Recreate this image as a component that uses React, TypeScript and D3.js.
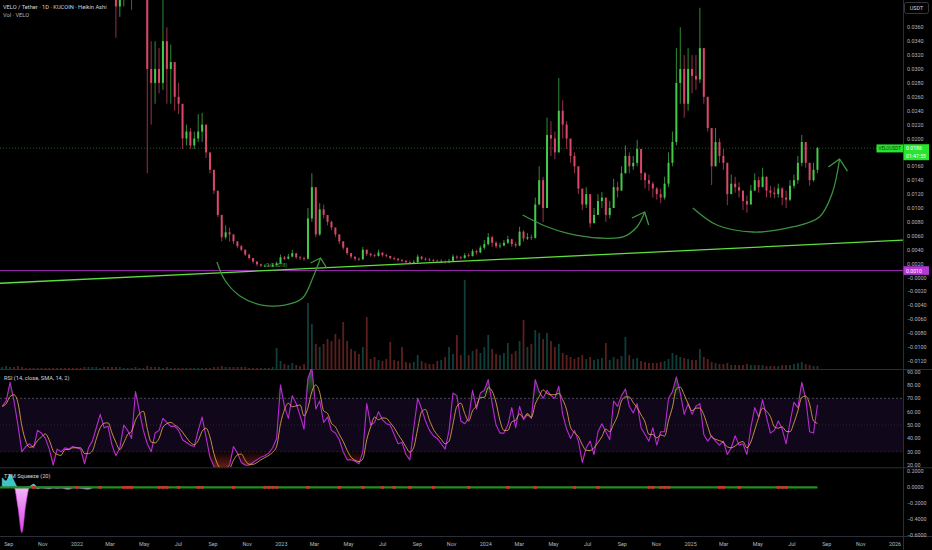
import React, { useMemo } from 'react';
import * as d3 from 'd3';

const W = 932;
const H = 550;
const AXIS_X = 903;
const DAY = 864e5;

// ---- data (weekly Heikin Ashi summary, VELO/USDT) ----
const startDate = Date.UTC(2021, 7, 17);

const weekClose = [
  0.110, 0.118, 0.125, 0.115, 0.100, 0.085, 0.082, 0.080, 0.076, 0.079, 0.078, 0.074, 0.070, 0.062, 0.060, 0.058, 0.057, 0.055, 0.054, 0.053, 0.051, 0.046, 0.047, 0.048, 0.050, 0.053, 0.051, 0.050,
  0.044, 0.039, 0.041, 0.044, 0.047, 0.043, 0.045, 0.048, 0.044, 0.030,
  0.028, 0.030, 0.028, 0.034, 0.030, 0.031, 0.026, 0.025, 0.020, 0.021,
  0.019, 0.020, 0.021, 0.022, 0.018, 0.0155, 0.0125, 0.0090, 0.0058, 0.0065,
  0.0062, 0.0052, 0.0045, 0.0040, 0.0033, 0.0028, 0.0023, 0.0019, 0.0017, 0.0017,
  0.0016, 0.0018, 0.0020, 0.0029, 0.0027, 0.0030, 0.0035, 0.0029, 0.0028, 0.0027,
  0.0085, 0.0130, 0.0062, 0.0098, 0.0090, 0.0080, 0.0072, 0.0062, 0.0052, 0.0043,
  0.0035, 0.0030, 0.0027, 0.0026, 0.0040, 0.0034, 0.0032, 0.0031, 0.0036, 0.0032,
  0.0031, 0.0028, 0.0027, 0.0025, 0.0024, 0.0022, 0.0021, 0.0022, 0.0030, 0.0027,
  0.0026, 0.0025, 0.0024, 0.0023, 0.0023, 0.0022, 0.0024, 0.0030, 0.0029, 0.0028,
  0.0032, 0.0031, 0.0038, 0.0036, 0.0043, 0.0048, 0.0058, 0.0050, 0.0045, 0.0046,
  0.0050, 0.0055, 0.0048, 0.0046, 0.0066, 0.0056, 0.0058, 0.0057, 0.0105, 0.0140,
  0.0100, 0.0205, 0.0200, 0.0180, 0.0240, 0.0220, 0.0200, 0.0175, 0.0160, 0.0128,
  0.0105, 0.0120, 0.0078, 0.0090, 0.0110, 0.0115, 0.0090, 0.0100, 0.0130, 0.0125,
  0.0150, 0.0175, 0.0160, 0.0165, 0.0185, 0.0150, 0.0140, 0.0135, 0.0128, 0.0120,
  0.0115, 0.0135, 0.0165, 0.0195, 0.0280, 0.0300, 0.0250, 0.0300, 0.0290, 0.0285,
  0.0330, 0.0260, 0.0215, 0.0160, 0.0195, 0.0175, 0.0165, 0.0120, 0.0135, 0.0130,
  0.0125, 0.0110, 0.0105, 0.0125, 0.0140, 0.0130, 0.0145, 0.0125, 0.0122, 0.0120,
  0.0128, 0.0115, 0.0112, 0.0132, 0.0140, 0.0165, 0.0195, 0.0165, 0.0140, 0.0155, 0.0186,
];

const weekHigh = [
  0.118, 0.128, 0.135, 0.128, 0.112, 0.095, 0.090, 0.088, 0.084, 0.086, 0.085, 0.081, 0.077, 0.070, 0.066, 0.064, 0.062, 0.060, 0.059, 0.058, 0.056, 0.052, 0.052, 0.053, 0.055, 0.058, 0.056, 0.055,
  0.049, 0.045, 0.046, 0.048, 0.052, 0.049, 0.052, 0.055, 0.050, 0.046,
  0.034, 0.034, 0.033, 0.045, 0.036, 0.0335, 0.029, 0.028, 0.023, 0.022,
  0.0215, 0.021, 0.0235, 0.0237, 0.021, 0.0175, 0.0145, 0.0115, 0.0073, 0.0075,
  0.0072, 0.0062, 0.0052, 0.0047, 0.0040, 0.0034, 0.0028, 0.0023, 0.0020, 0.0019,
  0.0019, 0.0020, 0.0023, 0.0033, 0.0031, 0.0034, 0.0040, 0.0034, 0.0031, 0.0030,
  0.0100, 0.0150, 0.0120, 0.0107, 0.0105, 0.0090, 0.0082, 0.0070, 0.0062, 0.0052,
  0.0042, 0.0035, 0.0030, 0.0029, 0.0044, 0.0040, 0.0036, 0.0034, 0.0040, 0.0036,
  0.0034, 0.0031, 0.0030, 0.0028, 0.0027, 0.0025, 0.0024, 0.0025, 0.0033, 0.0031,
  0.0029, 0.0028, 0.0027, 0.0026, 0.0026, 0.0025, 0.0027, 0.0033, 0.0032, 0.0031,
  0.0035, 0.0035, 0.0041, 0.0040, 0.0046, 0.0054, 0.0064, 0.0060, 0.0052, 0.0050,
  0.0054, 0.0060, 0.0056, 0.0051, 0.0073, 0.0068, 0.0064, 0.0062, 0.0115, 0.0160,
  0.0145, 0.0230, 0.0225, 0.0210, 0.0287, 0.0255, 0.0225, 0.0195, 0.0180, 0.0150,
  0.0125, 0.0130, 0.0105, 0.0100, 0.0120, 0.0123, 0.0110, 0.0110, 0.0142, 0.0138,
  0.0160, 0.0190, 0.0180, 0.0175, 0.0198, 0.0175, 0.0152, 0.0148, 0.0138, 0.0130,
  0.0128, 0.0145, 0.0180, 0.0210, 0.0330, 0.0360, 0.0320, 0.0330, 0.0320, 0.0320,
  0.0388, 0.0330, 0.0255, 0.0200, 0.0215, 0.0200, 0.0185, 0.0165, 0.0148, 0.0145,
  0.0137, 0.0125, 0.0118, 0.0133, 0.0150, 0.0145, 0.0158, 0.0145, 0.0132, 0.0130,
  0.0135, 0.0130, 0.0125, 0.0140, 0.0148, 0.0175, 0.0205, 0.0195, 0.0165, 0.0165, 0.0188,
];

const weekLow = [
  0.102, 0.108, 0.115, 0.105, 0.092, 0.080, 0.076, 0.074, 0.071, 0.073, 0.072, 0.068, 0.064, 0.057, 0.055, 0.054, 0.052, 0.051, 0.050, 0.049, 0.046, 0.043, 0.043, 0.044, 0.046, 0.048, 0.047, 0.046,
  0.0405, 0.0345, 0.0375, 0.039, 0.041, 0.0385, 0.040, 0.043, 0.041, 0.015,
  0.022, 0.025, 0.0265, 0.027, 0.025, 0.025, 0.024, 0.0235, 0.0185, 0.019,
  0.0185, 0.0185, 0.0195, 0.0195, 0.0172, 0.015, 0.012, 0.0087, 0.0052, 0.0055,
  0.0052, 0.0048, 0.0042, 0.0038, 0.0031, 0.0026, 0.0020, 0.0016, 0.0015, 0.0015,
  0.0015, 0.0015, 0.0017, 0.0020, 0.0025, 0.0026, 0.0029, 0.0027, 0.0025, 0.0024,
  0.0026, 0.0080, 0.0058, 0.0060, 0.0085, 0.0075, 0.0068, 0.0058, 0.0048, 0.0040,
  0.0032, 0.0027, 0.0024, 0.0024, 0.0026, 0.0031, 0.0030, 0.0029, 0.0030, 0.0030,
  0.0029, 0.0026, 0.0025, 0.0023, 0.0022, 0.0020, 0.0019, 0.0020, 0.0021, 0.0025,
  0.0024, 0.0023, 0.0022, 0.0021, 0.0021, 0.0020, 0.0021, 0.0023, 0.0026, 0.0026,
  0.0027, 0.0029, 0.0030, 0.0033, 0.0035, 0.0040, 0.0046, 0.0044, 0.0042, 0.0042,
  0.0045, 0.0048, 0.0044, 0.0043, 0.0045, 0.0052, 0.0054, 0.0054, 0.0056, 0.0105,
  0.0080, 0.0100, 0.0175, 0.0170, 0.0180, 0.0200, 0.0185, 0.0165, 0.0150, 0.0120,
  0.0097, 0.0100, 0.0072, 0.0080, 0.0090, 0.0100, 0.0080, 0.0085, 0.0100, 0.0115,
  0.0125, 0.0150, 0.0150, 0.0155, 0.0160, 0.0140, 0.0128, 0.0125, 0.0115, 0.0112,
  0.0107, 0.0112, 0.0130, 0.0160, 0.0190, 0.0250, 0.0230, 0.0240, 0.0265, 0.0270,
  0.0280, 0.0250, 0.0210, 0.0133, 0.0160, 0.0165, 0.0155, 0.0104, 0.0120, 0.0122,
  0.0115, 0.0097, 0.0093, 0.0105, 0.0125, 0.0122, 0.0130, 0.0115, 0.0115, 0.0114,
  0.0115, 0.0104, 0.0100, 0.0110, 0.0128, 0.0135, 0.0160, 0.0158, 0.0132, 0.0138, 0.0150,
];

const weekVolume = [
  2, 3, 2, 2, 3, 2, 1, 1, 1, 1, 1, 1, 1, 1, 1, 1, 1, 1, 1, 1,
  1, 2, 2, 2, 2, 1, 2, 2, 2, 2, 2, 1, 1, 1, 2, 1, 1, 3, 2, 2,
  2, 1, 2, 1, 1, 1, 1, 1, 1, 1, 1, 1, 1, 1, 2, 2, 3, 2, 2, 2,
  2, 2, 2, 1, 1, 1, 1, 1, 1, 2,
  21, 8, 5, 4, 6, 4, 3, 5, 66, 45,
  25, 22, 25, 30, 28, 35, 30, 47, 28, 20,
  18, 15, 22, 52, 10, 12, 9, 8, 10, 27,
  9, 8, 22, 7, 6, 7, 14, 8, 6, 5,
  5, 8, 9, 12, 22, 15, 34, 14, 89, 14,
  18, 20, 16, 22, 34, 20, 15, 14, 16, 26,
  15, 18, 28, 49, 22, 25, 39, 36, 30, 36,
  28, 22, 25, 16, 14, 12, 10, 12, 14, 10,
  12, 9, 10, 11, 26, 9, 12, 10, 13, 32,
  14, 10, 11, 8, 7, 6, 6, 6, 7, 8,
  10, 16, 14, 12, 11, 10, 9, 9, 20, 12,
  10, 7, 6, 5, 5, 6, 4, 4, 4, 4,
  5, 4, 4, 4, 4, 3, 3, 3, 3, 4,
  4, 4, 5, 6, 7, 5, 4, 3, 3,
];

const rsiValues = [
  64, 68, 82, 68, 50, 30, 34, 36, 33, 46,
  44, 40, 32, 20, 32, 30, 33, 32, 34, 33,
  32, 21, 33, 38, 48, 58, 48, 49, 35, 27,
  33, 50, 46, 40, 75, 60, 46, 36, 30, 44,
  46, 55, 52, 49, 49, 46, 39, 37, 35, 34,
  46, 56, 41, 26, 19, 16, 15, 17, 20, 34,
  29, 22, 20, 20, 22, 24, 26, 27, 29, 33,
  40, 80, 64, 55, 72, 66, 57, 47, 85, 93,
  62, 68, 52, 56, 46, 44, 39, 30, 24, 24,
  23, 21, 30, 66, 50, 52, 60, 54, 51, 50,
  43, 36, 37, 28, 24, 48, 70, 62, 53, 46,
  42, 40, 36, 32, 46, 74, 72, 53, 51, 55,
  76, 62, 74, 76, 84, 66, 50, 44, 44, 50,
  63, 48, 64, 54, 58, 55, 84, 75, 70, 76,
  72, 70, 79, 58, 47, 40, 46, 38, 22, 33,
  38, 28, 45, 51, 45, 39, 68, 64, 72, 77,
  64, 59, 66, 48, 43, 38, 48, 35, 45, 45,
  70, 75, 86, 74, 58, 66, 58, 64, 66, 43,
  38, 42, 38, 35, 38, 28, 33, 42, 35, 36,
  28, 48, 63, 56, 69, 56, 44, 46, 53, 47,
  36, 52, 67, 63, 82, 70, 45, 44, 65,
];

const momentumValues = [
  0.12, 0.08, 0.16, 0.08, -0.25, -0.57, -0.22, 0.01, 0.04, -0.02, -0.01, -0.015,
  -0.02, -0.01, -0.015, -0.01, -0.02, -0.025, -0.01, -0.005, -0.015, -0.02, -0.025, -0.01,
];

const squeezeOnWeeks = [8, 19, 25, 31, 32, 33, 40, 41, 42, 45, 50, 51, 59, 67, 68, 69, 70, 78, 86, 92, 97, 100, 104, 110, 119, 129, 136, 146, 152, 165, 166, 168, 169, 170, 183, 184, 188, 198, 199, 200];

const priceTicks = [0.036, 0.034, 0.032, 0.030, 0.028, 0.026, 0.024, 0.022, 0.020, 0.016, 0.014, 0.012, 0.010, 0.008, 0.006, 0.004, 0.002, 0, -0.002, -0.004, -0.006, -0.008, -0.010, -0.012];
const rsiTicks = [90, 80, 70, 60, 50, 40, 30, 20];
const momentumTicks = [0.2, 0, -0.2, -0.4, -0.6];

const lastPrice = 0.0186;
const lastPriceTimer = '01:47:55';
const alertLevel = 0.001;
const fibLabel = '0 (0.0018)';
const fibLevel = 0.0018;
const fibDate = '2022-12-05';

const trendAnchors = [
  { date: '2022-11-20', price: 0.00094 },
  { date: '2025-06-01', price: 0.00449 },
];

const curveA = [
  ['2022-09-08', 0.00223], ['2022-09-22', -0.00036], ['2022-10-19', -0.00266], ['2022-11-27', -0.00396],
  ['2023-01-07', -0.00396], ['2023-02-08', -0.00295], ['2023-02-26', -0.00007], ['2023-03-12', 0.00281],
];
const arrowA = [['2023-02-22', 0.00209], ['2023-03-12', 0.00281], ['2023-03-23', 0.00137]];

const curveB = [
  ['2024-03-07', 0.00899], ['2024-04-16', 0.00741], ['2024-05-25', 0.0064], ['2024-07-23', 0.00568],
  ['2024-09-02', 0.00583], ['2024-09-27', 0.00727], ['2024-10-11', 0.00942],
];
const arrowB = [['2024-09-18', 0.00856], ['2024-10-11', 0.00942], ['2024-10-18', 0.00755]];

const curveC = [
  ['2025-01-05', 0.0100], ['2025-02-17', 0.00755], ['2025-04-22', 0.00655], ['2025-07-02', 0.00727],
  ['2025-08-19', 0.00871], ['2025-09-11', 0.01216], ['2025-09-24', 0.01705],
];
const arrowC = [['2025-09-04', 0.0159], ['2025-09-24', 0.01705], ['2025-10-08', 0.01532]];

const FONT = 'Roboto, "Liberation Sans", Arial, sans-serif';
const TXT = '#b2b5be';
const GREEN = '#45c94a';
const RED = '#d9476b';

const parseD = (s: string) => {
  const [y, m, d] = s.split('-').map(Number);
  return new Date(Date.UTC(y, m - 1, d));
};

const fmtNeg = (v: number, digits: number) => {
  const s = Math.abs(v).toFixed(digits);
  return v < 0 ? '\u2212' + s : s;
};

export default function App() {
  const x = useMemo(
    () => d3.scaleUtc().domain([new Date(Date.UTC(2022, 0, 1)), new Date(Date.UTC(2026, 0, 1))]).range([77, 895]),
    []
  );
  const y = d3.scaleLinear().domain([0, 0.036]).range([277.5, 27.3]);
  const yVol = d3.scaleLinear().domain([0, 89]).range([369, 280]);
  const yR = d3.scaleLinear().domain([30, 70]).range([451.8, 398.3]);
  const yM = d3.scaleLinear().domain([0, -0.6]).range([487.3, 535]);

  const cx = (i: number) => x(new Date(startDate + (i * 7 + 3.5) * DAY));

  const candles = weekClose.map((c, i) => {
    const o = i === 0 ? c : weekClose[i - 1];
    const up = c >= o;
    return { i, o, c, h: weekHigh[i], l: weekLow[i], up, xc: cx(i) };
  });

  const rsiPts = rsiValues.map((r, i) => ({ xc: cx(i), r }));
  // RSI-based moving average (trailing window over the weekly RSI samples)
  const smaPts = rsiValues.map((r, i) => {
    const win = rsiValues.slice(Math.max(0, i - 2), i + 1);
    return { xc: cx(i), r: d3.mean(win) as number };
  });

  const rsiLine = d3.line<any>().x((d) => d.xc).y((d) => yR(d.r));
  const smaLine = d3.line<any>().x((d) => d.xc).y((d) => yR(d.r)).curve(d3.curveMonotoneX);
  const obArea = d3.area<any>().x((d) => d.xc).y0(yR(70)).y1((d) => yR(Math.max(70, d.r)));
  const osArea = d3.area<any>().x((d) => d.xc).y0(yR(30)).y1((d) => yR(Math.min(30, d.r)));

  const momPts = momentumValues.map((m, i) => ({ xc: cx(i), m }));
  const posArea = d3.area<any>().x((d) => d.xc).y0(yM(0)).y1((d) => yM(Math.max(0, d.m))).curve(d3.curveMonotoneX);
  const negArea = d3.area<any>().x((d) => d.xc).y0(yM(0)).y1((d) => yM(Math.min(0, d.m))).curve(d3.curveMonotoneX);

  // trend line through two anchors, extended to the pane edges
  const tA = parseD(trendAnchors[0].date).getTime();
  const tB = parseD(trendAnchors[1].date).getTime();
  const slope = (trendAnchors[1].price - trendAnchors[0].price) / (tB - tA);
  const trendAt = (t: number) => trendAnchors[0].price + slope * (t - tA);
  const t0 = x.invert(0).getTime();
  const t1 = x.invert(AXIS_X).getTime();

  const drawLine = d3
    .line<any>()
    .x((d) => x(parseD(d[0])))
    .y((d) => y(d[1]))
    .curve(d3.curveCatmullRom.alpha(0.5));
  const arrowLine = d3
    .line<any>()
    .x((d) => x(parseD(d[0])))
    .y((d) => y(d[1]));

  const timeTicks = d3.utcMonth.every(2)!.range(new Date(Date.UTC(2021, 8, 1)), new Date(Date.UTC(2026, 0, 2)));
  const fmtTick = (d: Date) => (d.getUTCMonth() === 0 ? String(d.getUTCFullYear()) : d3.utcFormat('%b')(d));

  const lastY = y(lastPrice);
  const alertY = y(alertLevel);

  return (
    <svg
      width={W}
      height={H}
      style={{ position: 'absolute', left: 0, top: 0, display: 'block', background: '#000' }}
      fontFamily={FONT}
    >
      <defs>
        <clipPath id="pricePane">
          <rect x={0} y={0} width={AXIS_X} height={369} />
        </clipPath>
        <clipPath id="rsiPane">
          <rect x={0} y={369.5} width={AXIS_X} height={98} />
        </clipPath>
        <clipPath id="momPane">
          <rect x={0} y={468} width={AXIS_X} height={68} />
        </clipPath>
        <linearGradient id="osGrad" gradientUnits="userSpaceOnUse" x1={0} x2={0} y1={yR(30)} y2={yR(12)}>
          <stop offset="0" stopColor="#f23645" stopOpacity={0.05} />
          <stop offset="1" stopColor="#ff6a2a" stopOpacity={0.6} />
        </linearGradient>
        <linearGradient id="obGrad" gradientUnits="userSpaceOnUse" x1={0} x2={0} y1={yR(70)} y2={yR(95)}>
          <stop offset="0" stopColor="#4caf50" stopOpacity={0.05} />
          <stop offset="1" stopColor="#4caf50" stopOpacity={0.7} />
        </linearGradient>
        <linearGradient id="negGrad" gradientUnits="userSpaceOnUse" x1={0} x2={0} y1={yM(0)} y2={yM(-0.6)}>
          <stop offset="0" stopColor="#f3b6f7" />
          <stop offset="1" stopColor="#d63be6" />
        </linearGradient>
      </defs>

      <rect x={0} y={0} width={W} height={H} fill="#000" />

      {/* ---------- price pane ---------- */}
      <g clipPath="url(#pricePane)">
        {/* volume */}
        {weekVolume.map((v, i) => (
          <rect
            key={'v' + i}
            x={cx(i) - 0.9}
            width={1.8}
            y={yVol(v)}
            height={yVol(0) - yVol(v)}
            fill={candles[i].up ? 'rgba(38,166,154,0.38)' : 'rgba(239,83,80,0.38)'}
          />
        ))}

        {/* last price dotted line */}
        <line x1={0} x2={AXIS_X} y1={lastY} y2={lastY} stroke="#2f6e32" strokeWidth={0.8} strokeDasharray="1 2" />
        {/* alert line */}
        <line x1={0} x2={AXIS_X} y1={alertY} y2={alertY} stroke="#9c27b0" strokeWidth={1} />

        {/* trend line */}
        <line
          x1={0}
          y1={y(trendAt(t0))}
          x2={AXIS_X}
          y2={y(trendAt(t1))}
          stroke="#5ee03c"
          strokeWidth={1.3}
        />

        {/* candles */}
        {candles.map((d) => {
          const col = d.up ? GREEN : RED;
          const top = Math.min(y(d.o), y(d.c));
          const hgt = Math.max(0.8, Math.abs(y(d.o) - y(d.c)));
          return (
            <g key={'c' + d.i}>
              <line x1={d.xc} x2={d.xc} y1={y(d.h)} y2={y(d.l)} stroke={col} strokeWidth={0.7} />
              <rect x={d.xc - 1} width={2} y={top} height={hgt} fill={col} />
            </g>
          );
        })}

        {/* fib label */}
        <text x={x(parseD(fibDate))} y={y(fibLevel) + 1.8} fontSize={4.6} fill="#4caf50">
          {fibLabel}
        </text>

        {/* hand drawn curves */}
        {[curveA, curveB, curveC].map((c, k) => (
          <path key={'cv' + k} d={drawLine(c as any) || ''} fill="none" stroke="#3e9a40" strokeWidth={1.3} strokeOpacity={0.95} />
        ))}
        {[arrowA, arrowB, arrowC].map((c, k) => (
          <path key={'ar' + k} d={arrowLine(c as any) || ''} fill="none" stroke="#3e9a40" strokeWidth={1.3} strokeLinejoin="round" />
        ))}
      </g>

      <text x={3} y={8.5} fontSize={5.7} fill="#d1d4dc">
        VELO / Tether · 1D · KUCOIN · Heikin Ashi
      </text>
      <text x={3} y={16.5} fontSize={5.7} fill="#b2b5be">
        Vol · VELO
      </text>

      {/* ---------- RSI pane ---------- */}
      <line x1={0} x2={W} y1={369.5} y2={369.5} stroke="#2a2e39" strokeWidth={1} />
      <rect x={0} y={yR(70)} width={AXIS_X} height={yR(30) - yR(70)} fill="rgba(126,60,200,0.13)" />
      <line x1={0} x2={AXIS_X} y1={yR(70)} y2={yR(70)} stroke="#787b86" strokeWidth={0.6} strokeDasharray="2 2" />
      <line x1={0} x2={AXIS_X} y1={yR(50)} y2={yR(50)} stroke="#787b86" strokeOpacity={0.4} strokeWidth={0.6} strokeDasharray="1 2" />
      <line x1={0} x2={AXIS_X} y1={yR(30)} y2={yR(30)} stroke="#787b86" strokeOpacity={0.35} strokeWidth={0.6} strokeDasharray="2 2" />
      <g clipPath="url(#rsiPane)">
        <path d={osArea(rsiPts) || ''} fill="url(#osGrad)" />
        <path d={obArea(rsiPts) || ''} fill="url(#obGrad)" />
        <path d={rsiLine(rsiPts) || ''} fill="none" stroke="#b82bd2" strokeWidth={1.1} strokeLinejoin="round" />
        <path d={smaLine(smaPts) || ''} fill="none" stroke="#f0b44c" strokeWidth={0.8} />
      </g>
      <text x={4} y={379.5} fontSize={5.7} fill="#d1d4dc">
        RSI (14, close, SMA, 14, 2)
      </text>

      {/* ---------- Squeeze pane ---------- */}
      <line x1={0} x2={W} y1={467.8} y2={467.8} stroke="#2a2e39" strokeWidth={1} />
      <g clipPath="url(#momPane)">
        <path d={posArea(momPts) || ''} fill="#3cc4cc" stroke="#6fe0e6" strokeWidth={0.5} />
        <path d={negArea(momPts) || ''} fill="url(#negGrad)" stroke="#d63be6" strokeWidth={0.6} />
        <line x1={0} x2={cx(weekClose.length - 1)} y1={yM(0)} y2={yM(0)} stroke="#1f8f22" strokeWidth={2.2} />
        {squeezeOnWeeks.map((w) => (
          <rect key={'sq' + w} x={cx(w) - 2} y={yM(0) - 1.4} width={4} height={2.8} rx={1.2} fill="#d9302f" />
        ))}
      </g>
      <text x={4} y={478} fontSize={5.7} fill="#d1d4dc">
        TTM Squeeze (20)
      </text>

      {/* ---------- time axis ---------- */}
      <line x1={0} x2={W} y1={536.5} y2={536.5} stroke="#2a2e39" strokeWidth={1} />
      {timeTicks.map((t) => (
        <text key={'t' + t.getTime()} x={x(t)} y={545.5} fontSize={5.4} fill={TXT} textAnchor="middle">
          {fmtTick(t)}
        </text>
      ))}

      {/* ---------- right axis ---------- */}
      <line x1={AXIS_X + 0.5} x2={AXIS_X + 0.5} y1={0} y2={H} stroke="#2a2e39" strokeWidth={1} />
      {priceTicks.map((p) => (
        <text key={'p' + p} x={907} y={y(p) + 2} fontSize={5.4} fill={TXT}>
          {p === 0 ? '\u22120.0000' : fmtNeg(p, 4)}
        </text>
      ))}
      {rsiTicks.map((r) => (
        <text key={'r' + r} x={907} y={yR(r) + 2} fontSize={5.4} fill={TXT}>
          {r.toFixed(2)}
        </text>
      ))}
      {momentumTicks.map((m) => (
        <text key={'m' + m} x={907} y={yM(m) + 2} fontSize={5.4} fill={TXT}>
          {fmtNeg(m, 4)}
        </text>
      ))}

      {/* USDT box */}
      <rect x={904.5} y={2.5} width={24} height={11} rx={2} fill="#000" stroke="#4a4e59" strokeWidth={0.7} />
      <text x={916.5} y={10} fontSize={5.4} fill="#d1d4dc" textAnchor="middle">
        USDT
      </text>

      {/* last price labels */}
      <rect x={876.5} y={lastY - 3.8} width={26.5} height={8} fill="#27e52c" />
      <text x={889.7} y={lastY + 1.8} fontSize={4.6} fill="#0b3a0b" textAnchor="middle">
        VELOUSDT
      </text>
      <rect x={903.5} y={lastY - 4} width={25.5} height={16} fill="#27e52c" />
      <text x={906} y={lastY + 2} fontSize={5.2} fill="#ffffff">
        {lastPrice.toFixed(4)}
      </text>
      <text x={906} y={lastY + 9.5} fontSize={5.2} fill="#ffffff">
        {lastPriceTimer}
      </text>

      {/* alert label */}
      <rect x={903.5} y={alertY - 4.3} width={25.5} height={8.6} fill="#b537d6" />
      <text x={906} y={alertY + 2} fontSize={5.2} fill="#ffffff">
        {alertLevel.toFixed(4)}
      </text>
    </svg>
  );
}
